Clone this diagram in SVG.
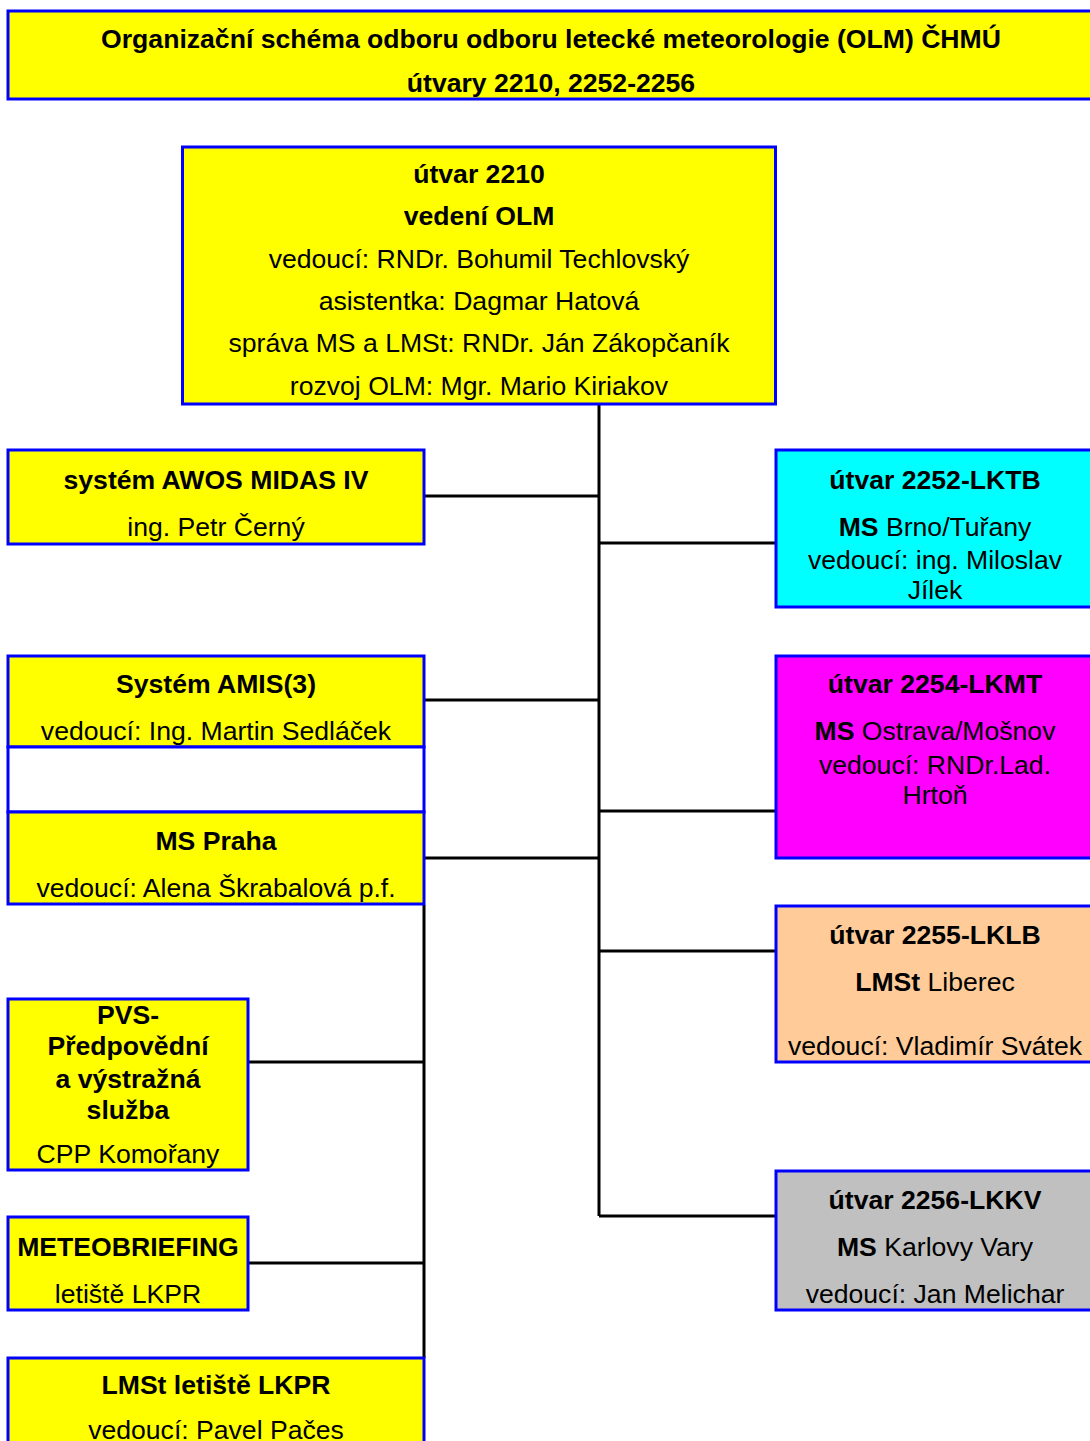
<svg xmlns="http://www.w3.org/2000/svg" width="1090" height="1441" viewBox="0 0 1090 1441">
<style>
.box{stroke:#0000FF;stroke-width:3}
.y{fill:#FFFF00}
.t{font-family:"Liberation Sans",Arial,sans-serif;font-size:26.6px;fill:#000;text-anchor:middle}
.b{font-weight:bold}
.c{stroke:#000;stroke-width:3;fill:none}
</style>
<rect width="1090" height="1441" fill="#FFFFFF"/>
<g id="connectors">
<path class="c" d="M599 404V1216"/>
<path class="c" d="M425 496H599"/>
<path class="c" d="M599 543H776"/>
<path class="c" d="M425 700H599"/>
<path class="c" d="M599 811H776"/>
<path class="c" d="M425 858H599"/>
<path class="c" d="M599 951H776"/>
<path class="c" d="M599 1216H776"/>
<path class="c" d="M424 905V1358"/>
<path class="c" d="M249 1062H424"/>
<path class="c" d="M249 1263H424"/>
</g>
<g id="title">
<rect class="box y" x="8" y="11" width="1090" height="88"/>
<text class="t b" x="551" y="48">Organizační schéma odboru odboru letecké meteorologie (OLM) ČHMÚ</text>
<text class="t b" x="551" y="92">útvary 2210, 2252-2256</text>
</g>
<g id="n2210">
<rect class="box y" x="182.5" y="147" width="593" height="257"/>
<text class="t b" x="479" y="183">útvar 2210</text>
<text class="t b" x="479" y="225">vedení OLM</text>
<text class="t" x="479" y="268">vedoucí: RNDr. Bohumil Techlovský</text>
<text class="t" x="479" y="310">asistentka: Dagmar Hatová</text>
<text class="t" x="479" y="352">správa MS a LMSt: RNDr. Ján Zákopčaník</text>
<text class="t" x="479" y="395">rozvoj OLM: Mgr. Mario Kiriakov</text>
</g>
<g id="awos">
<rect class="box y" x="8" y="450" width="416" height="94"/>
<text class="t b" x="216" y="489">systém AWOS MIDAS IV</text>
<text class="t" x="216" y="536">ing. Petr Černý</text>
</g>
<g id="amis">
<rect class="box y" x="8" y="656" width="416" height="91"/>
<text class="t b" x="216" y="693">Systém AMIS(3)</text>
<text class="t" x="216" y="740">vedoucí: Ing. Martin Sedláček</text>
</g>
<g id="empty">
<rect class="box" fill="#FFFFFF" x="8" y="747" width="416" height="65"/>
</g>
<g id="praha">
<rect class="box y" x="8" y="812" width="416" height="92"/>
<text class="t b" x="216" y="850">MS Praha</text>
<text class="t" x="216" y="897">vedoucí: Alena Škrabalová p.f.</text>
</g>
<g id="pvs">
<rect class="box y" x="8" y="999" width="240" height="171"/>
<text class="t b" x="128" y="1024">PVS-</text>
<text class="t b" x="128" y="1055">Předpovědní</text>
<text class="t b" x="128" y="1088">a výstražná</text>
<text class="t b" x="128" y="1119">služba</text>
<text class="t" x="128" y="1163">CPP Komořany</text>
</g>
<g id="meteobriefing">
<rect class="box y" x="8" y="1217" width="240" height="93"/>
<text class="t b" x="128" y="1256">METEOBRIEFING</text>
<text class="t" x="128" y="1303">letiště LKPR</text>
</g>
<g id="lmst-lkpr">
<rect class="box y" x="8" y="1358" width="416" height="100"/>
<text class="t b" x="216" y="1394">LMSt letiště LKPR</text>
<text class="t" x="216" y="1439">vedoucí: Pavel Pačes</text>
</g>
<g id="n2252">
<rect class="box" fill="#00FFFF" x="776" y="450" width="330" height="157"/>
<text class="t b" x="935" y="489">útvar 2252-LKTB</text>
<text class="t" x="935" y="536"><tspan class="b">MS</tspan> Brno/Tuřany</text>
<text class="t" x="935" y="569">vedoucí: ing. Miloslav</text>
<text class="t" x="935" y="599">Jílek</text>
</g>
<g id="n2254">
<rect class="box" fill="#FF00FF" x="776" y="656" width="330" height="202"/>
<text class="t b" x="935" y="693">útvar 2254-LKMT</text>
<text class="t" x="935" y="740"><tspan class="b">MS</tspan> Ostrava/Mošnov</text>
<text class="t" x="935" y="774">vedoucí: RNDr.Lad.</text>
<text class="t" x="935" y="804">Hrtoň</text>
</g>
<g id="n2255">
<rect class="box" fill="#FFCC99" x="776" y="906" width="330" height="156"/>
<text class="t b" x="935" y="944">útvar 2255-LKLB</text>
<text class="t" x="935" y="991"><tspan class="b">LMSt</tspan> Liberec</text>
<text class="t" x="935" y="1055">vedoucí: Vladimír Svátek</text>
</g>
<g id="n2256">
<rect class="box" fill="#C0C0C0" x="776" y="1171" width="330" height="139"/>
<text class="t b" x="935" y="1209">útvar 2256-LKKV</text>
<text class="t" x="935" y="1256"><tspan class="b">MS</tspan> Karlovy Vary</text>
<text class="t" x="935" y="1303">vedoucí: Jan Melichar</text>
</g>
</svg>
